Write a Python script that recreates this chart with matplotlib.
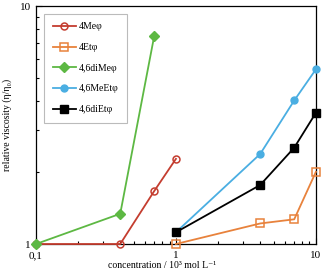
import matplotlib
matplotlib.use("Agg")
import matplotlib.pyplot as plt
from matplotlib.ticker import FixedLocator, FixedFormatter, LogLocator, NullFormatter

plt.rcParams['font.family'] = ['Liberation Serif', 'DejaVu Serif']

x_a = [0.1, 0.4, 0.7, 1.0]
x_b = [1.0, 4.0, 7.0, 10.0]

me4 = [1.0, 1.0, 1.67, 2.28]
et4 = [1.0, 1.22, 1.27, 2.01]
dime46 = [1.0, 1.34, 7.5]
meet46 = [1.12, 2.39, 4.01, 5.42]
diet46 = [1.12, 1.77, 2.54, 3.56]

fig = plt.figure(figsize=(3.24, 2.71), dpi=100)
ax = fig.add_axes([0.111, 0.0996, 0.864, 0.878])

ax.plot(x_a, me4, color='#C43D2F', lw=1.3, marker='o', ms=5, mfc='none', mec='#C43D2F',
        mew=1.1, label='4Me\u03c6', clip_on=False, zorder=3)
ax.plot(x_b, et4, color='#E8823C', lw=1.3, marker='s', ms=5.5, mfc='none', mec='#E8823C',
        mew=1.1, label='4Et\u03c6', clip_on=False, zorder=3)
ax.plot(x_a[:3], dime46, color='#5DB843', lw=1.3, marker='D', ms=5, mfc='#5DB843',
        mec='#5DB843', label='4,6diMe\u03c6', clip_on=False, zorder=3)
ax.plot(x_b, meet46, color='#4AAEE2', lw=1.3, marker='o', ms=5, mfc='#4AAEE2',
        mec='#4AAEE2', label='4,6MeEt\u03c6', clip_on=False, zorder=3)
ax.plot(x_b, diet46, color='black', lw=1.3, marker='s', ms=6, mfc='black',
        mec='black', label='4,6diEt\u03c6', clip_on=False, zorder=3)

ax.set_xscale('log')
ax.set_yscale('log')
ax.set_xlim(0.1, 10)
ax.set_ylim(1, 10)

ax.xaxis.set_major_locator(FixedLocator([0.1, 1, 10]))
ax.xaxis.set_major_formatter(FixedFormatter(['0,1', '1', '10']))
ax.yaxis.set_major_locator(FixedLocator([1, 10]))
ax.yaxis.set_major_formatter(FixedFormatter(['1', '10']))
ax.xaxis.set_minor_locator(LogLocator(base=10, subs=range(2, 10)))
ax.yaxis.set_minor_locator(LogLocator(base=10, subs=range(2, 10)))
ax.xaxis.set_minor_formatter(NullFormatter())
ax.yaxis.set_minor_formatter(NullFormatter())
ax.tick_params(which='both', direction='in', labelsize=8, width=0.8)
ax.tick_params(which='major', length=4)
ax.tick_params(which='minor', length=2.5)
ax.tick_params(axis='x', pad=5)
for s in ax.spines.values():
    s.set_linewidth(0.9)

ax.set_ylabel('relative viscosity (\u03b7/\u03b7\u2080)', fontsize=7, labelpad=6)
fig.text(0.5, 0.004, 'concentration / 10\u00b3 mol L\u207b\u00b9', ha='center', va='bottom', fontsize=7)

leg = ax.legend(loc='upper left', bbox_to_anchor=(0.018, 0.98), fontsize=7, frameon=True,
                fancybox=False, edgecolor='#aaaaaa', labelspacing=1.2, handlelength=2.4,
                borderpad=0.9, handletextpad=0.3, borderaxespad=0.3)
leg.get_frame().set_linewidth(0.8)

fig.savefig('out.png', dpi=100)
